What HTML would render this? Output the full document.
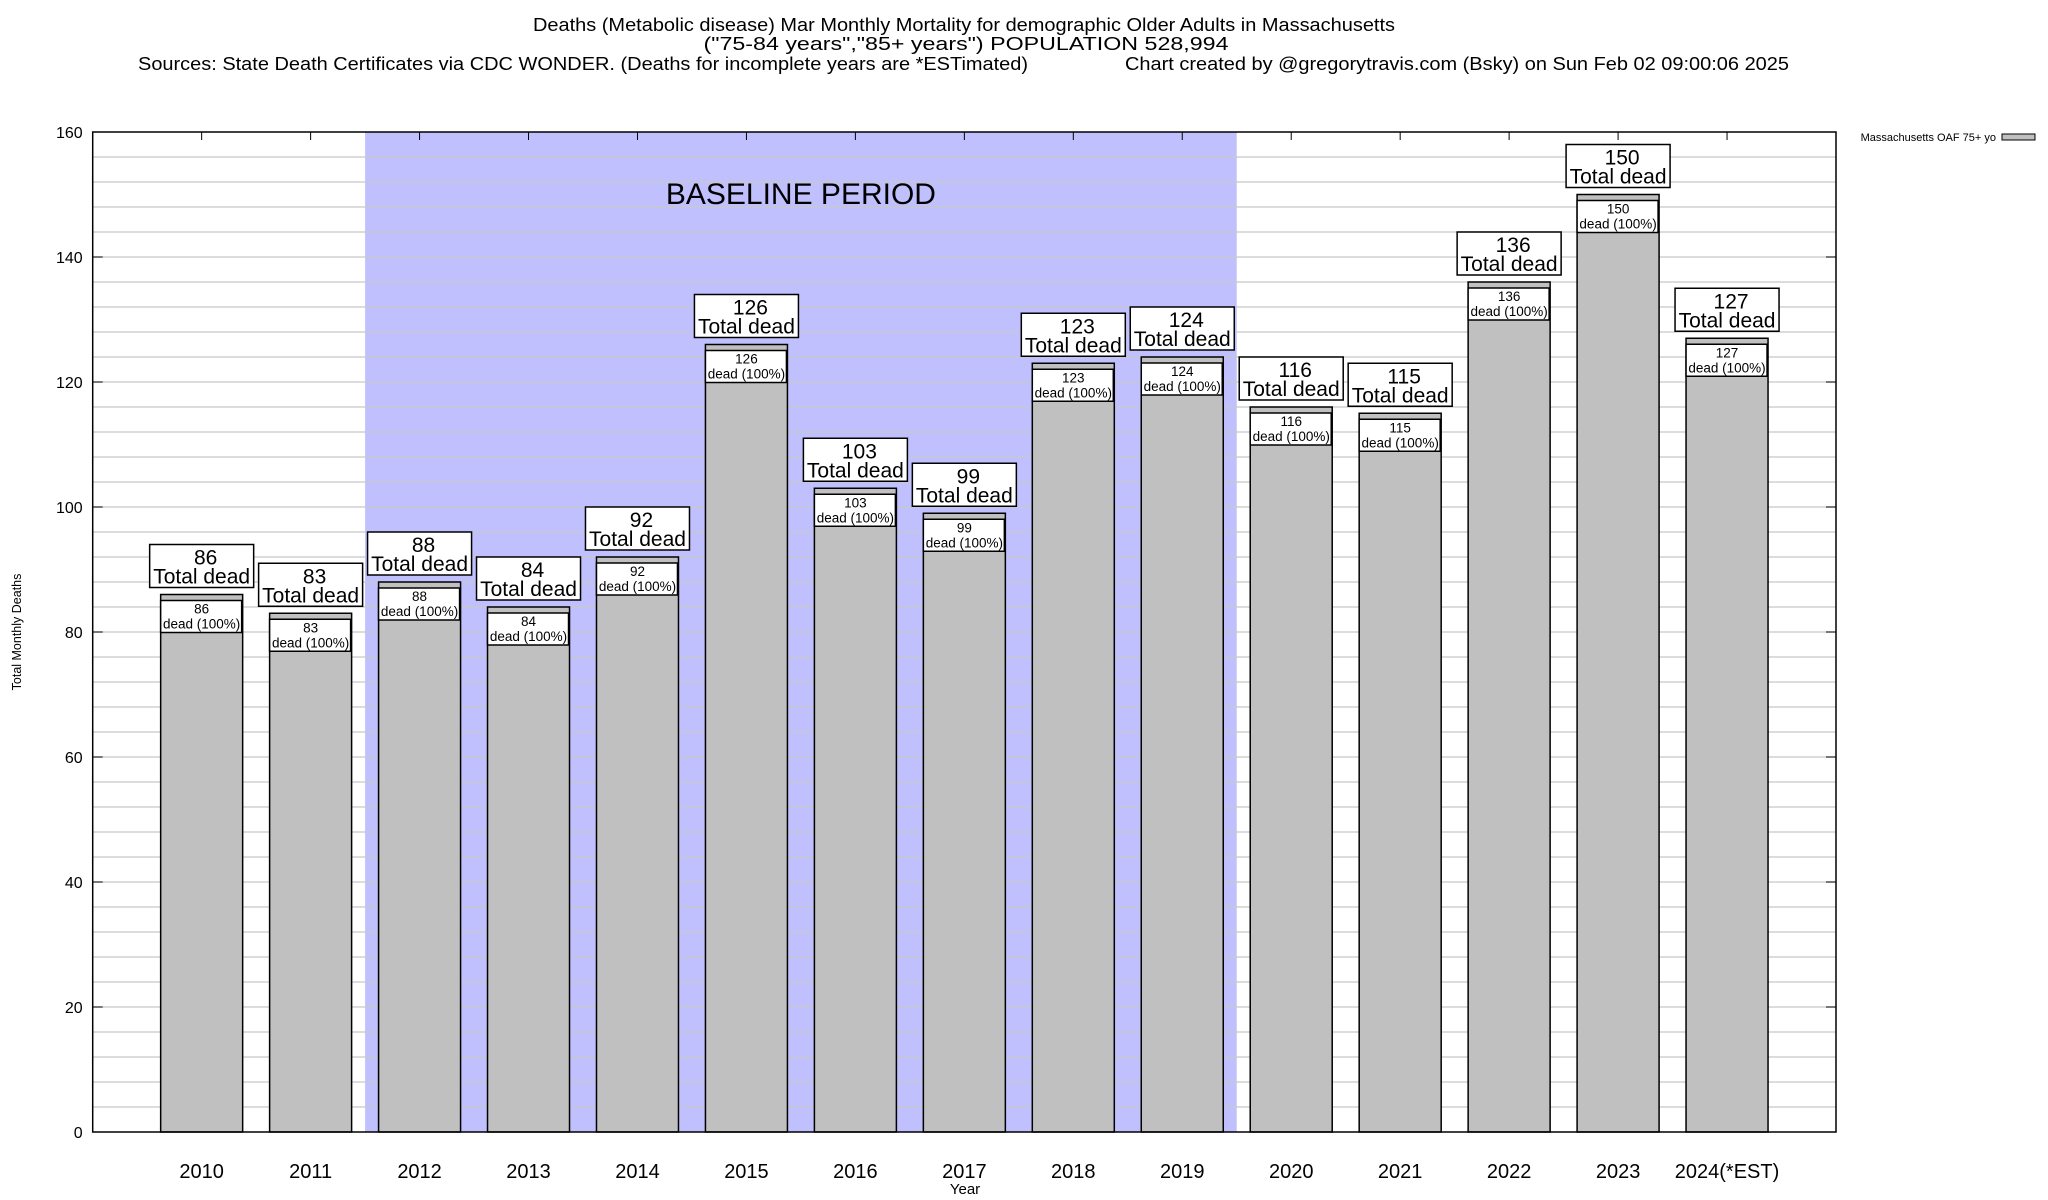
<!DOCTYPE html>
<html><head><meta charset="utf-8"><style>
html,body{margin:0;padding:0;background:#fff;}
svg{display:block;font-family:"Liberation Sans",Arial,sans-serif;}
</style></head><body>
<svg id="chart" width="2048" height="1200" viewBox="0 0 2048 1200" xmlns="http://www.w3.org/2000/svg">
<g font-size="18" fill="#000">
<text x="964" y="31" text-anchor="middle" textLength="862" lengthAdjust="spacingAndGlyphs">Deaths (Metabolic disease) Mar Monthly Mortality for demographic Older Adults in Massachusetts</text>
<text x="966" y="50" text-anchor="middle" textLength="525" lengthAdjust="spacingAndGlyphs">("75-84 years","85+ years") POPULATION 528,994</text>
<text x="138" y="70" textLength="890" lengthAdjust="spacingAndGlyphs">Sources: State Death Certificates via CDC WONDER. (Deaths for incomplete years are *ESTimated)</text>
<text x="1125" y="70" textLength="664" lengthAdjust="spacingAndGlyphs">Chart created by @gregorytravis.com (Bsky) on Sun Feb 02 09:00:06 2025</text>
</g>
<g id="plot"></g>
<g>
<text x="1996" y="141" font-size="11" text-anchor="end">Massachusetts OAF 75+ yo</text>
<rect x="2002" y="134" width="33" height="6" fill="#c0c0c0" stroke="#000" stroke-width="1"/>
</g>
<text transform="translate(21,632) rotate(-90)" font-size="12.5" text-anchor="middle">Total Monthly Deaths</text>
<text x="965" y="1194" font-size="15" text-anchor="middle">Year</text>
</svg>
<script>
const categories = ["2010","2011","2012","2013","2014","2015","2016","2017","2018","2019","2020","2021","2022","2023","2024(*EST)"];
const deaths = [86,83,88,84,92,126,103,99,123,124,116,115,136,150,127];
const yTicks = [0,20,40,60,80,100,120,140,160];
const baselineStart = 2, baselineEnd = 9;
const NS="http://www.w3.org/2000/svg";
const L=92.7,R=1836,T=132,B=1132,YMAX=160;
const xs=i=>L+(i+1)*(R-L)/(categories.length+1);
const ys=v=>B-v*(B-T)/YMAX;
const g=document.getElementById('plot');
function mk(t,a,p){const e=document.createElementNS(NS,t);for(const k in a)e.setAttribute(k,a[k]);(p||g).appendChild(e);return e;}
const step=(R-L)/(categories.length+1);
const sh=mk('rect',{x:xs(baselineStart)-step/2,y:T,width:(baselineEnd-baselineStart+1)*step,height:B-T,fill:'#c0c0ff'});


const bt=mk('text',{x:(xs(baselineStart)+xs(baselineEnd))/2,y:204,'font-size':30,'text-anchor':'middle'});
bt.textContent='BASELINE PERIOD';


for(let v=4;v<YMAX;v+=4){const ln=mk('line',{x1:L,x2:R,y1:ys(v),y2:ys(v),stroke:'#c8c8c8','stroke-width':1.3});

}
yTicks.forEach(v=>{const t=mk('text',{x:L-10,y:ys(v)+6,'font-size':16,'text-anchor':'end'});t.textContent=v;


mk('line',{x1:L,x2:L+10,y1:ys(v),y2:ys(v),stroke:'#000'});mk('line',{x1:R-10,x2:R,y1:ys(v),y2:ys(v),stroke:'#000'});});
const bw=82;
categories.forEach((c,i)=>{
 const v=deaths[i],cx=xs(i),x0=cx-bw/2,yt=ys(v);
 const gg=mk('g',{});
 
 
 mk('rect',{x:x0,y:yt,width:bw,height:B-yt,fill:'#c0c0c0',stroke:'#000','stroke-width':1.5},gg);
 mk('rect',{x:x0,y:yt+6,width:bw-1,height:32,fill:'#fff',stroke:'#000','stroke-width':1.5},gg);
 const t1=mk('text',{x:cx,y:yt+19,'font-size':13.5,'text-anchor':'middle'},gg);t1.textContent=v;
 const t2=mk('text',{x:cx,y:yt+34,'font-size':13.5,'text-anchor':'middle'},gg);t2.textContent='dead (100%)';
 const lb=mk('g',{});
 
 
 mk('rect',{x:cx-52,y:yt-50,width:104,height:43,fill:'#fff',stroke:'#000','stroke-width':1.5},lb);
 const a=mk('text',{x:cx+4,y:yt-30,'font-size':21,'text-anchor':'middle'},lb);a.textContent=v;
 const b=mk('text',{x:cx,y:yt-11,'font-size':21,'text-anchor':'middle'},lb);b.textContent='Total dead';
 const xl=mk('text',{x:cx,y:1178,'font-size':20,'text-anchor':'middle'});xl.textContent=c;
 
 
 mk('line',{x1:cx,x2:cx,y1:T,y2:T+8,stroke:'#000'});
});
const fr=mk('rect',{x:L,y:T,width:R-L,height:B-T,fill:'none',stroke:'#000','stroke-width':1.5});


</script>
</body></html>
